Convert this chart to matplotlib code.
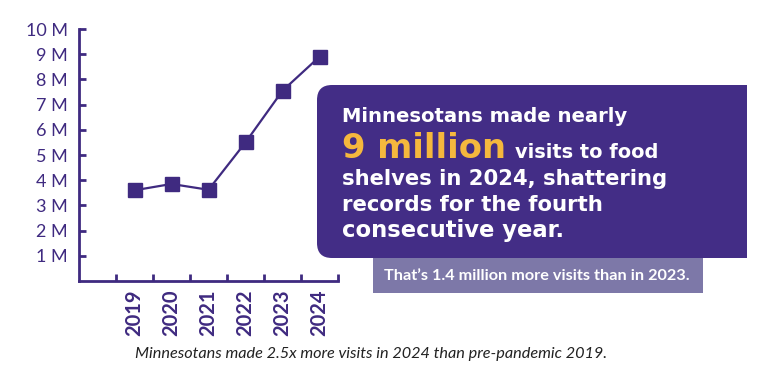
import matplotlib.pyplot as plt
from matplotlib.patches import FancyBboxPatch, Rectangle

years = ['2019', '2020', '2021', '2022', '2023', '2024']
visits_m = [3.6, 3.85, 3.62, 5.5, 7.55, 8.9]
y_ticks = [1, 2, 3, 4, 5, 6, 7, 8, 9, 10]
y_labels = [f'{v} M' for v in y_ticks]

purple = '#3f2a80'
box_purple = '#432d86'
gray_box = '#7d78a8'
gold = '#f5b83d'

W, H = 769, 386
fig = plt.figure(figsize=(W / 100, H / 100), dpi=100)
fig.patch.set_facecolor('white')
renderer = fig.canvas.get_renderer()


def fit_text(axis, x, y, s, width, size=12, **kw):
    """Draw text and scale its font size so it spans `width` pixels"""
    t = axis.text(x, y, s, fontsize=size, **kw)
    w = t.get_window_extent(renderer).width
    t.set_fontsize(size * width / w)
    return t


# axes placed in pixel coords: left 79, right 338, top 29, bottom 281
ax = fig.add_axes([79 / W, 1 - 281 / H, (338 - 79) / W, (281 - 29) / H])
xs = [i + 1.5 for i in range(len(years))]
ax.plot(xs, visits_m, color=purple, lw=1.6, marker='s', markersize=9.5,
        markerfacecolor=purple, markeredgecolor=purple, zorder=3)
ax.set_xlim(0, 7)
ax.set_ylim(0, 10)
for s in ['top', 'right']:
    ax.spines[s].set_visible(False)
for s in ['left', 'bottom']:
    ax.spines[s].set_color(purple)
    ax.spines[s].set_linewidth(2)

ax.set_yticks(y_ticks)
ax.set_yticklabels(y_labels, fontsize=13, color=purple, family='Lato')
ax.tick_params(axis='y', direction='in', length=5, width=2, color=purple, pad=8)

ax.set_xticks(range(1, 8))
ax.set_xticklabels([])
ax.tick_params(axis='x', direction='in', length=5, width=2, color=purple)
ax.set_xticks(xs, minor=True)
ax.set_xticklabels(years, minor=True, rotation=90, fontsize=14.5, color=purple,
                   family='Lato', fontweight='bold')
ax.tick_params(axis='x', which='minor', length=0, pad=6)
ax.set_facecolor('none')

# callout box with rounded left corners
fax = fig.add_axes([0, 0, 1, 1], zorder=5)
fax.set_xlim(0, W)
fax.set_ylim(H, 0)
fax.axis('off')
fax.add_patch(FancyBboxPatch((317, 85), 120, 173, boxstyle='round,pad=0,rounding_size=15',
                             facecolor=box_purple, edgecolor='none'))
fax.add_patch(Rectangle((380, 85), 747 - 380, 173, facecolor=box_purple, edgecolor='none'))
fax.add_patch(Rectangle((373, 258), 703 - 373, 35, facecolor=gray_box, edgecolor='none'))

tx = 342
bold = dict(color='white', family='DejaVu Sans', fontweight='bold', va='baseline')
fit_text(fax, tx, 122, 'Minnesotans made nearly', 285, **bold)
fit_text(fax, tx, 158, '9 million', 163, color=gold, family='DejaVu Sans',
         fontweight='heavy', va='baseline')
fit_text(fax, 515, 158, 'visits to food', 143, **bold)
fit_text(fax, tx, 185, 'shelves in 2024, shattering', 325, **bold)
fit_text(fax, tx, 211, 'records for the fourth', 262, **bold)
fit_text(fax, tx, 237, 'consecutive year.', 222, **bold)

fit_text(fax, 537, 276, 'That\u2019s 1.4 million more visits than in 2023.', 303,
         color='white', family='Lato', fontweight='bold', ha='center', va='center')

fit_text(fax, 371, 354, 'Minnesotans made 2.5x more visits in 2024 than pre-pandemic 2019.',
         472, color='#222222', family='Lato', style='italic', ha='center', va='center')

fig.savefig('out.png', dpi=100)
